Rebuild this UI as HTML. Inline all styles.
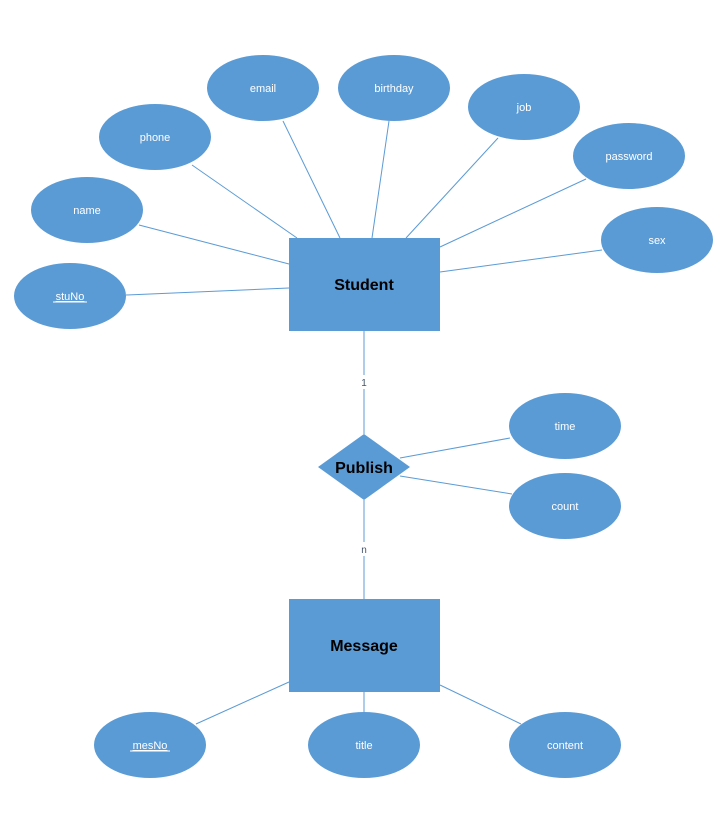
<!DOCTYPE html>
<html><head><meta charset="utf-8"><style>
html,body{margin:0;padding:0;background:#fff;}
svg{display:block;}
</style></head><body>
<svg width="716" height="819" xmlns="http://www.w3.org/2000/svg" font-family="Liberation Sans, sans-serif">
<g stroke="#5b9bd5" stroke-width="1" fill="none">
<line x1="283" y1="121" x2="340" y2="238"/>
<line x1="389" y1="121" x2="372" y2="238"/>
<line x1="192" y1="165" x2="297" y2="238"/>
<line x1="498" y1="138" x2="406" y2="238"/>
<line x1="586" y1="179" x2="440" y2="247"/>
<line x1="139" y1="225" x2="289" y2="264"/>
<line x1="602" y1="250" x2="440" y2="272"/>
<line x1="126" y1="295" x2="289" y2="288"/>
<line x1="364" y1="331" x2="364" y2="375"/>
<line x1="364" y1="389" x2="364" y2="434"/>
<line x1="364" y1="500" x2="364" y2="542"/>
<line x1="364" y1="556" x2="364" y2="599"/>
<line x1="400" y1="458" x2="510" y2="438"/>
<line x1="400" y1="476" x2="512" y2="494"/>
<line x1="196" y1="724" x2="289" y2="682"/>
<line x1="364" y1="692" x2="364" y2="712"/>
<line x1="440" y1="685" x2="521" y2="724"/>
</g>
<g fill="#5b9bd5">
<ellipse cx="263" cy="88" rx="56" ry="33"/>
<ellipse cx="394" cy="88" rx="56" ry="33"/>
<ellipse cx="155" cy="137" rx="56" ry="33"/>
<ellipse cx="524" cy="107" rx="56" ry="33"/>
<ellipse cx="629" cy="156" rx="56" ry="33"/>
<ellipse cx="87" cy="210" rx="56" ry="33"/>
<ellipse cx="657" cy="240" rx="56" ry="33"/>
<ellipse cx="70" cy="296" rx="56" ry="33"/>
<ellipse cx="565" cy="426" rx="56" ry="33"/>
<ellipse cx="565" cy="506" rx="56" ry="33"/>
<ellipse cx="150" cy="745" rx="56" ry="33"/>
<ellipse cx="364" cy="745" rx="56" ry="33"/>
<ellipse cx="565" cy="745" rx="56" ry="33"/>
<rect x="289" y="238" width="151" height="93"/>
<rect x="289" y="599" width="151" height="93"/>
<polygon points="364,434 410,467 364,500 318,467"/>
</g>
<g fill="#fff" font-size="11" text-anchor="middle">
<text x="263" y="92">email</text>
<text x="394" y="92">birthday</text>
<text x="155" y="141">phone</text>
<text x="524" y="111">job</text>
<text x="629" y="160">password</text>
<text x="87" y="214">name</text>
<text x="657" y="244">sex</text>
<text x="70" y="300" text-decoration="underline">stuNo</text>
<text x="565" y="430">time</text>
<text x="565" y="510">count</text>
<text x="150" y="749" text-decoration="underline">mesNo</text>
<text x="364" y="749">title</text>
<text x="565" y="749">content</text>
</g>
<line x1="53" y1="302" x2="87" y2="302" stroke="#fff" stroke-width="1"/>
<line x1="130" y1="751" x2="170" y2="751" stroke="#fff" stroke-width="1"/>
<g fill="#000" font-size="16" font-weight="bold" text-anchor="middle">
<text x="364" y="290">Student</text>
<text x="364" y="651">Message</text>
<text x="364" y="473">Publish</text>
</g>
<g fill="#44546a" font-size="10" text-anchor="middle">
<text x="364" y="386">1</text>
<text x="364" y="553">n</text>
</g>
</svg>
</body></html>
